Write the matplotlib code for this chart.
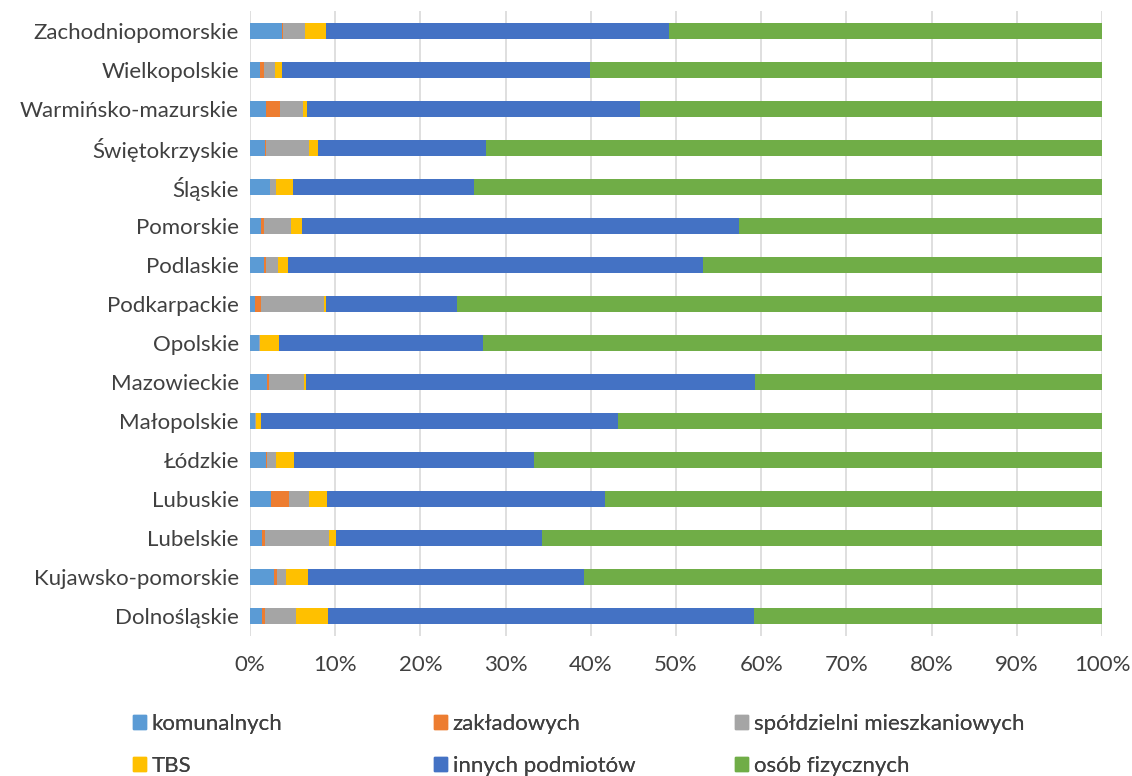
import matplotlib.pyplot as plt
from matplotlib.patches import Patch
import numpy as np

plt.rcParams['font.family'] = ['Lato', 'DejaVu Sans']

# voivodeships, listed bottom to top
regions = ["Dolnośląskie", "Kujawsko-pomorskie", "Lubelskie", "Lubuskie", "Łódzkie",
           "Małopolskie", "Mazowieckie", "Opolskie", "Podkarpackie", "Podlaskie",
           "Pomorskie", "Śląskie", "Świętokrzyskie", "Warmińsko-mazurskie",
           "Wielkopolskie", "Zachodniopomorskie"]

# share of dwellings by owner type (%)
komunalnych = [1.35, 2.85, 1.45, 2.5, 1.9, 0.6, 2.0, 1.0, 0.6, 1.7, 1.3, 2.3, 1.8, 1.9, 1.2, 3.7]
zakladowych = [0.4, 0.3, 0.35, 2.1, 0.1, 0.0, 0.2, 0.1, 0.7, 0.15, 0.35, 0.0, 0.05, 1.6, 0.4, 0.2]
spoldzielni = [3.65, 1.1, 7.45, 2.35, 1.0, 0.05, 4.15, 0.1, 7.4, 1.45, 3.2, 0.7, 5.1, 2.7, 1.3, 2.6]
tbs = [3.75, 2.5, 0.8, 2.1, 2.2, 0.6, 0.25, 2.15, 0.25, 1.2, 1.3, 2.0, 1.0, 0.5, 0.9, 2.4]
innych = [50.05, 32.45, 24.25, 32.65, 28.1, 42.0, 52.7, 24.0, 15.35, 48.7, 51.2, 21.3, 19.8, 39.1, 36.1, 40.3]

series = [komunalnych, zakladowych, spoldzielni, tbs, innych]
names = ["komunalnych", "zakładowych", "spółdzielni mieszkaniowych",
         "TBS", "innych podmiotów", "osób fizycznych"]
colors = ["#5B9BD5", "#ED7D31", "#A5A5A5", "#FFC000", "#4472C4", "#70AD47"]

data = np.array(series)
osob = 100 - data.sum(axis=0)
data = np.vstack([data, osob])

fig = plt.figure(figsize=(11.32, 7.76), dpi=100)
ax = fig.add_axes([250 / 1132, 1 - 636 / 776, 852 / 1132, 625 / 776])

y = np.arange(len(regions))
left = np.zeros(len(regions))
for vals, name, col in zip(data, names, colors):
    ax.barh(y, vals, left=left, height=0.41, color=col, label=name, linewidth=0, zorder=3)
    left += vals

fs = 16
ax.set_xlim(0, 100)
ax.set_ylim(-0.5, len(regions) - 0.5)
ax.set_xticks(np.arange(0, 101, 10))
ax.set_xticklabels([f"{v}%" for v in range(0, 101, 10)], fontsize=fs, color="#404040")
ax.set_yticks(y)
ax.set_yticklabels(regions, fontsize=fs, color="#404040")
ax.tick_params(length=0, pad=8)
ax.tick_params(axis='x', pad=14)
ax.grid(axis='x', color="#D9D9D9", linewidth=1.2, zorder=0)
for s in ax.spines.values():
    s.set_visible(False)

# legend: three columns, each its own two-row legend so they sit evenly apart
handles = [Patch(color=c) for c in colors]
col_x = [131, 432, 733]
for k, x in enumerate(col_x):
    idx = [k, k + 3]
    leg = fig.legend([handles[i] for i in idx], [names[i] for i in idx],
                     loc='lower left', bbox_to_anchor=(x / 1132, -2 / 776),
                     frameon=False, fontsize=fs, handlelength=0.58, handleheight=0.58,
                     handletextpad=0.25, labelspacing=1.0,
                     labelcolor="#404040", borderaxespad=0.0, borderpad=0.1)
    fig.add_artist(leg)

fig.savefig("out.png", dpi=100)
